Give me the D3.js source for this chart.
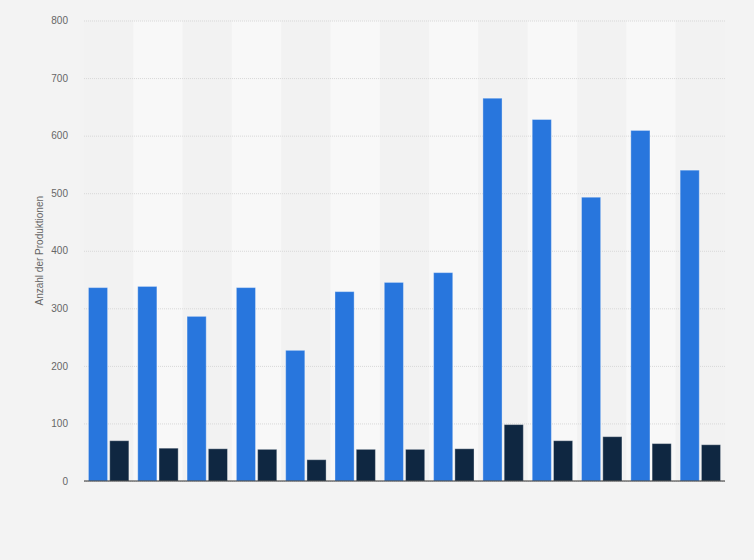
<!DOCTYPE html>
<html>
<head>
<meta charset="utf-8">
<script src="https://cdn.jsdelivr.net/npm/d3@7"></script>
<style>
  body { margin: 0; background: #f3f3f3; }
  svg { display: block; font-family: "Liberation Sans", Arial, sans-serif; }
  .tick text { fill: #666; font-size: 10px; }
</style>
</head>
<body>
<svg id="chart"></svg>
<script>
// data (no x labels shown in the original)
const categories = ['1','2','3','4','5','6','7','8','9','10','11','12','13'];
const seriesA = [336, 338, 286, 336, 227, 329, 345, 362, 665, 628, 493, 609, 540];
const seriesB = [70, 57, 56, 55, 37, 55, 55, 56, 98, 70, 77, 65, 63];
const yTicks = [0, 100, 200, 300, 400, 500, 600, 700, 800];

const W = 754, H = 560;
const PLOT_L = 84, PLOT_R = 725, PLOT_T = 20.5, PLOT_B = 481;
const svg = d3.select('#chart').attr('width', W).attr('height', H);

const x = d3.scaleBand().domain(categories).range([PLOT_L, PLOT_R])
  .paddingInner(0.18).paddingOuter(0.09);
const step = x.step();
const xInner = d3.scaleBand().domain(['a', 'b']).range([0, x.bandwidth()]).paddingInner(0.1);
const y = d3.scaleLinear().domain([0, 800]).range([PLOT_B, PLOT_T]);

// alternating column bands
svg.append('g').selectAll('rect').data(categories).enter().append('rect')
  .attr('x', d => x(d) - step * 0.09)
  .attr('y', PLOT_T)
  .attr('width', step)
  .attr('height', PLOT_B - PLOT_T)
  .attr('fill', (d, i) => i % 2 ? '#f8f8f8' : '#f2f2f2');

// grid lines
const yAxis = d3.axisLeft(y).tickValues(yTicks).tickSize(-(PLOT_R - PLOT_L)).tickPadding(16);
const gy = svg.append('g').attr('transform', `translate(${PLOT_L},0)`).call(yAxis);
gy.select('.domain').remove();
gy.selectAll('.tick line')
  .attr('stroke', '#d8d8d8')
  .attr('stroke-dasharray', '1,1')
  .attr('stroke-width', 1);
gy.selectAll('.tick text').attr('x', -16);

// bars
const groups = svg.append('g').selectAll('g').data(categories).enter().append('g')
  .attr('transform', d => `translate(${x(d)},0)`);

groups.append('rect')
  .attr('x', xInner('a'))
  .attr('y', (d, i) => y(seriesA[i]))
  .attr('width', xInner.bandwidth())
  .attr('height', (d, i) => y(0) - y(seriesA[i]))
  .attr('fill', '#2876dd')
  .attr('stroke', 'rgba(255,255,255,0.35)')
  .attr('stroke-width', 1);

groups.append('rect')
  .attr('x', xInner('b'))
  .attr('y', (d, i) => y(seriesB[i]))
  .attr('width', xInner.bandwidth())
  .attr('height', (d, i) => y(0) - y(seriesB[i]))
  .attr('fill', '#0f2741')
  .attr('stroke', 'rgba(255,255,255,0.35)')
  .attr('stroke-width', 1);

// baseline
svg.append('line')
  .attr('x1', PLOT_L).attr('x2', PLOT_R)
  .attr('y1', y(0)).attr('y2', y(0))
  .attr('stroke', '#333').attr('stroke-width', 1);

// y label
svg.append('text')
  .attr('transform', `translate(43,${(PLOT_T + PLOT_B) / 2}) rotate(-90)`)
  .attr('text-anchor', 'middle')
  .attr('fill', '#666')
  .attr('font-size', 10)
  .text('Anzahl der Produktionen');
</script>
</body>
</html>
